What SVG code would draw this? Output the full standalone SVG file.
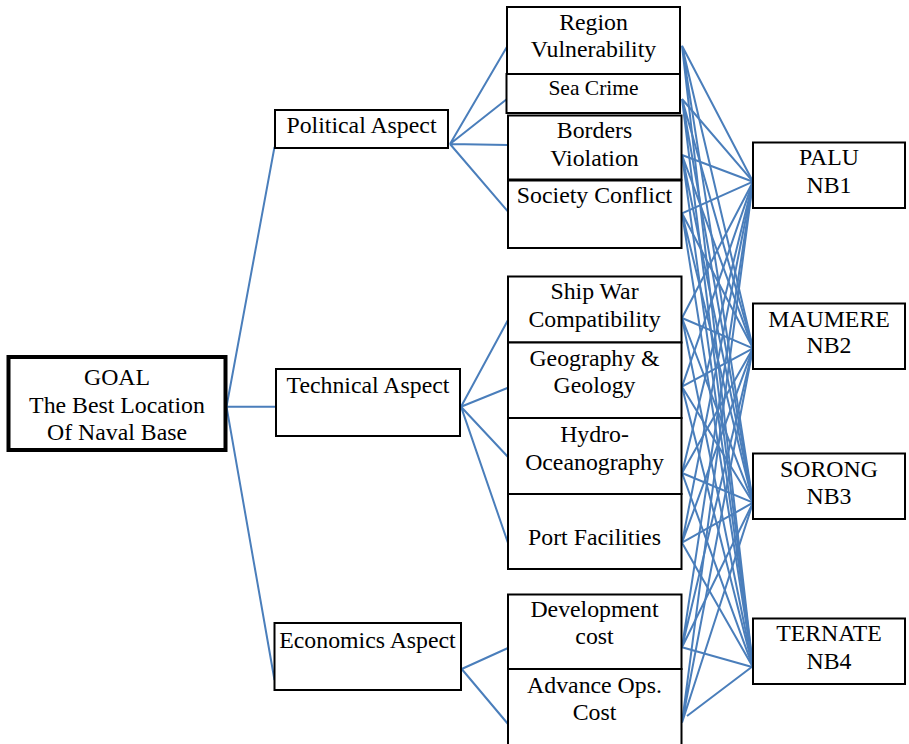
<svg xmlns="http://www.w3.org/2000/svg" width="909" height="744" viewBox="0 0 909 744">
<style>
.box{fill:#fff;stroke:#000;stroke-width:2}
.goal{fill:#fff;stroke:#000;stroke-width:4}
text{font-family:"Liberation Serif","Times New Roman",serif;font-size:23.8px;fill:#000;text-anchor:middle}
.sm{font-size:21.5px}
.c{stroke:#4a7ebb;stroke-width:2;fill:none}
</style>
<rect width="909" height="744" fill="#fff"/>
<g id="connectors" class="c">
<path d="M226.5,406.7 L274.5,147 M226.5,406.7 L276,406.7 M226.5,406.7 L274.5,680"/>
<path d="M450,144 L507,46.7 M450,144 L507,99 M450,144 L508,145 M450,144 L508,211.7"/>
<path d="M461,406.7 L508,320 M461,406.7 L508,387.7 M461,406.7 L508,457 M461,406.7 L508,543"/>
<path d="M461.7,669 L508,648 M461.7,669 L508,724"/>
<path d="M682,45.7 L753,181.7 M682,45.7 L753,348.3 M682,45.7 L753,502.7 M682,45.7 L753,667.3"/>
<path d="M682,99 L753,181.7 M682,99 L753,348.3 M682,99 L753,502.7 M682,99 L753,667.3"/>
<path d="M682,155 L753,181.7 M682,155 L753,348.3 M682,155 L753,502.7 M682,155 L753,667.3"/>
<path d="M682,213.3 L753,181.7 M682,213.3 L753,348.3 M682,213.3 L753,502.7 M682,213.3 L753,667.3"/>
<path d="M682,318 L753,181.7 M682,318 L753,348.3 M682,318 L753,502.7 M682,318 L753,667.3"/>
<path d="M682,386.7 L753,181.7 M682,386.7 L753,348.3 M682,386.7 L753,502.7 M682,386.7 L753,667.3"/>
<path d="M682,473 L753,181.7 M682,473 L753,348.3 M682,473 L753,502.7 M682,473 L753,667.3"/>
<path d="M682,542.7 L753,181.7 M682,542.7 L753,348.3 M682,542.7 L753,502.7 M682,542.7 L753,667.3"/>
<path d="M682,647.3 L753,181.7 M682,647.3 L753,348.3 M682,647.3 L753,502.7 M682,647.3 L753,667.3"/>
<path d="M682,722.7 L753,181.7 M682,722.7 L753,348.3 M682,722.7 L753,502.7 M687,716 L757,663"/>
</g>
<g id="goal">
<rect class="goal" x="8.5" y="357" width="217" height="93"/>
<text x="117" y="385">GOAL</text>
<text x="117" y="413">The Best Location</text>
<text x="117" y="440">Of Naval Base</text>
</g>
<g id="political">
<rect class="box" x="275" y="110" width="173" height="38"/>
<text x="361.5" y="133">Political Aspect</text>
</g>
<g id="technical">
<rect class="box" x="276" y="369" width="184" height="67"/>
<text x="368" y="393">Technical Aspect</text>
</g>
<g id="economics">
<rect class="box" x="274.5" y="623" width="186.5" height="67"/>
<text x="367.5" y="648">Economics Aspect</text>
</g>
<g id="region-vulnerability">
<rect class="box" x="507" y="7" width="173" height="67"/>
<text x="593.5" y="30">Region</text>
<text x="593.5" y="57">Vulnerability</text>
</g>
<g id="sea-crime">
<rect class="box" x="506.5" y="74" width="173.5" height="39"/>
<text class="sm" x="593.5" y="95">Sea Crime</text>
</g>
<g id="borders-violation">
<rect class="box" x="508" y="115.5" width="173.5" height="64"/>
<text x="594.5" y="138">Borders</text>
<text x="594.5" y="166">Violation</text>
</g>
<g id="society-conflict">
<rect class="box" x="508" y="180.5" width="173.5" height="67.5"/>
<text x="594.5" y="203">Society Conflict</text>
</g>
<g id="ship-war">
<rect class="box" x="508" y="276.5" width="173.5" height="66"/>
<text x="594.5" y="299">Ship War</text>
<text x="594.5" y="327">Compatibility</text>
</g>
<g id="geography">
<rect class="box" x="508" y="342.5" width="173.5" height="75.5"/>
<text x="594.5" y="366">Geography &amp;</text>
<text x="594.5" y="393">Geology</text>
</g>
<g id="hydro">
<rect class="box" x="508" y="418" width="173.5" height="76"/>
<text x="594.5" y="442">Hydro-</text>
<text x="594.5" y="470">Oceanography</text>
</g>
<g id="port">
<rect class="box" x="508" y="494" width="173.5" height="75"/>
<text x="594.5" y="545">Port Facilities</text>
</g>
<g id="development-cost">
<rect class="box" x="508" y="594.5" width="173.5" height="74.5"/>
<text x="594.5" y="617">Development</text>
<text x="594.5" y="644">cost</text>
</g>
<g id="advance-ops-cost">
<rect class="box" x="508" y="669" width="173.5" height="80"/>
<text x="594.5" y="693">Advance Ops.</text>
<text x="594.5" y="720">Cost</text>
</g>
<g id="palu">
<rect class="box" x="753" y="142.5" width="152" height="65.5"/>
<text x="829" y="165">PALU</text>
<text x="829" y="193">NB1</text>
</g>
<g id="maumere">
<rect class="box" x="753" y="303.5" width="152" height="65.5"/>
<text x="829" y="327">MAUMERE</text>
<text x="829" y="353">NB2</text>
</g>
<g id="sorong">
<rect class="box" x="753" y="453.5" width="152" height="65.5"/>
<text x="829" y="477">SORONG</text>
<text x="829" y="504">NB3</text>
</g>
<g id="ternate">
<rect class="box" x="753" y="618.5" width="152" height="65.5"/>
<text x="829" y="641">TERNATE</text>
<text x="829" y="669">NB4</text>
</g>
</svg>
